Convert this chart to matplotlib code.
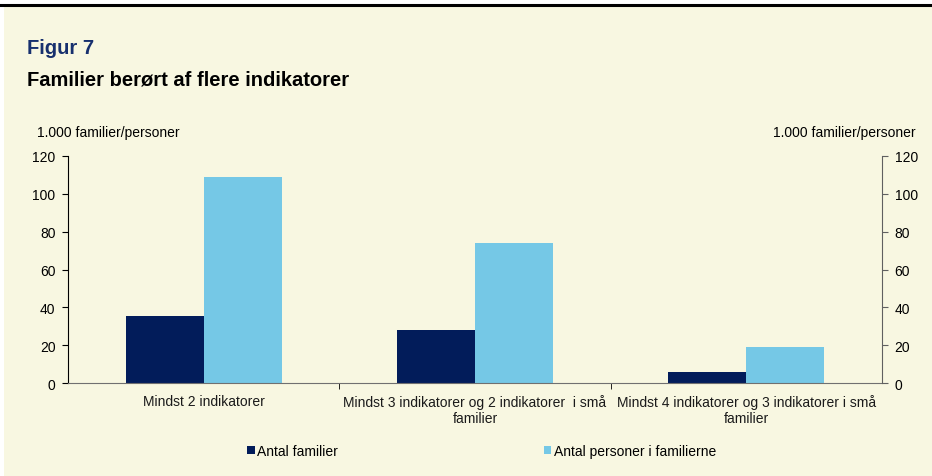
import matplotlib
matplotlib.use("Agg")
import matplotlib.pyplot as plt
import numpy as np
from matplotlib.patches import Rectangle
from matplotlib.lines import Line2D

plt.rcParams['font.family'] = ['Liberation Sans', 'DejaVu Sans']

categories = ['Mindst 2 indikatorer',
              'Mindst 3 indikatorer og 2 indikatorer  i små\nfamilier',
              'Mindst 4 indikatorer og 3 indikatorer i små\nfamilier']
familier = [35.4, 28.0, 5.8]
personer = [108.9, 74.0, 19.0]
series_names = ['Antal familier', 'Antal personer i familierne']

bg = '#F8F7E1'
dark = '#021C5A'
light = '#75C8E6'

W, H = 932, 477
fig = plt.figure(figsize=(W / 100, H / 100), dpi=100, facecolor='white')
fig.add_artist(Rectangle((4 / W, 0), 1, 1 - 7 / H, transform=fig.transFigure,
                         facecolor=bg, edgecolor='none', zorder=0))
fig.add_artist(Line2D([0, 1], [1 - 6 / H, 1 - 6 / H], transform=fig.transFigure,
                      color='black', lw=2.2))

ax = fig.add_axes([68 / W, 1 - 384 / H, (882 - 68) / W, (384 - 157) / H])
ax.set_facecolor('none')
x = np.arange(len(categories))
w = 0.287
ax.bar(x - w / 2, familier, w, color=dark, label=series_names[0])
ax.bar(x + w / 2, personer, w, color=light, label=series_names[1])
ax.set_xlim(-0.5, 2.5)
ax.set_ylim(0, 120)
ax.set_yticks(range(0, 121, 20))
ax.set_xticks(x)
ax.set_xticklabels(categories, fontsize=10, color='#1a1a1a', linespacing=1.15)
ax.set_xticks([0.5, 1.5], minor=True)
ax.tick_params(axis='x', which='major', length=0, pad=8)
ax.tick_params(axis='x', which='minor', length=4, color='black', direction='out')
ax.tick_params(axis='y', length=4, labelsize=10, color='black', pad=5)
for s in ['top', 'right']:
    ax.spines[s].set_visible(False)
ax.spines['left'].set_color('black')
ax.spines['bottom'].set_color('#707070')

ax2 = ax.twinx()
ax2.set_ylim(0, 120)
ax2.set_yticks(range(0, 121, 20))
ax2.tick_params(axis='y', length=4, labelsize=10, color='#606060', pad=5)
for s in ['top', 'left', 'bottom']:
    ax2.spines[s].set_visible(False)
ax2.spines['right'].set_color('#606060')

fig.text(27 / W, 1 - 48 / H, 'Figur 7', fontsize=14.5, fontweight='bold',
         color='#17306E', va='center', ha='left')
fig.text(27 / W, 1 - 80 / H, 'Familier berørt af flere indikatorer', fontsize=14.5,
         fontweight='bold', color='black', va='center', ha='left')
fig.text(37 / W, 1 - 133 / H, '1.000 familier/personer', fontsize=10,
         va='center', ha='left')
fig.text(916 / W, 1 - 133 / H, '1.000 familier/personer', fontsize=10,
         va='center', ha='right')

fig.legend(loc='center left', bbox_to_anchor=(247 / W, 1 - 452 / H), ncol=2,
           frameon=False, fontsize=10, handlelength=0.55, handleheight=0.55,
           handletextpad=0.2, columnspacing=14.8, borderpad=0, borderaxespad=0)

fig.savefig('out.png', dpi=100, facecolor=fig.get_facecolor())
